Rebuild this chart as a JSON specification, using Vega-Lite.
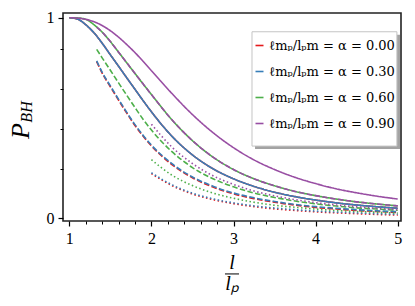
{
"$schema": "https://vega.github.io/schema/vega-lite/v6.json",
"width": 338, "height": 208,
"autosize": "none",
"padding": {"left": 63, "top": 13, "right": 14, "bottom": 85},
"background": "white",
"config": {"view": {"stroke": "#222222", "strokeWidth": 1.6}, "font": "Liberation Serif", "legend": {"labelFont": "DejaVu Serif"}},
"data": {"values": [
{"a":"0.00","s":"solid","l":1,"p":1.0},{"a":"0.00","s":"solid","l":1.1,"p":0.993},{"a":"0.00","s":"solid","l":1.2,"p":0.965},{"a":"0.00","s":"solid","l":1.3,"p":0.925},{"a":"0.00","s":"solid","l":1.4,"p":0.873},{"a":"0.00","s":"solid","l":1.5,"p":0.815},{"a":"0.00","s":"solid","l":1.6,"p":0.758},{"a":"0.00","s":"solid","l":1.7,"p":0.700},{"a":"0.00","s":"solid","l":1.8,"p":0.643},{"a":"0.00","s":"solid","l":1.9,"p":0.586},{"a":"0.00","s":"solid","l":2,"p":0.531},{"a":"0.00","s":"solid","l":2.25,"p":0.409},{"a":"0.00","s":"solid","l":2.5,"p":0.316},{"a":"0.00","s":"solid","l":2.75,"p":0.247},{"a":"0.00","s":"solid","l":3,"p":0.197},{"a":"0.00","s":"solid","l":3.25,"p":0.159},{"a":"0.00","s":"solid","l":3.5,"p":0.130},{"a":"0.00","s":"solid","l":3.75,"p":0.108},{"a":"0.00","s":"solid","l":4,"p":0.091},{"a":"0.00","s":"solid","l":4.25,"p":0.077},{"a":"0.00","s":"solid","l":4.5,"p":0.066},{"a":"0.00","s":"solid","l":4.75,"p":0.0575},{"a":"0.00","s":"solid","l":5,"p":0.050},
{"a":"0.00","s":"dashed","l":1.3333,"p":0.781},{"a":"0.00","s":"dashed","l":1.4,"p":0.724},{"a":"0.00","s":"dashed","l":1.5,"p":0.656},{"a":"0.00","s":"dashed","l":1.6,"p":0.589},{"a":"0.00","s":"dashed","l":1.7,"p":0.524},{"a":"0.00","s":"dashed","l":1.8,"p":0.463},{"a":"0.00","s":"dashed","l":1.9,"p":0.409},{"a":"0.00","s":"dashed","l":2,"p":0.361},{"a":"0.00","s":"dashed","l":2.25,"p":0.268},{"a":"0.00","s":"dashed","l":2.5,"p":0.202},{"a":"0.00","s":"dashed","l":2.75,"p":0.156},{"a":"0.00","s":"dashed","l":3,"p":0.122},{"a":"0.00","s":"dashed","l":3.25,"p":0.098},{"a":"0.00","s":"dashed","l":3.5,"p":0.080},{"a":"0.00","s":"dashed","l":3.75,"p":0.066},{"a":"0.00","s":"dashed","l":4,"p":0.054},{"a":"0.00","s":"dashed","l":4.25,"p":0.046},{"a":"0.00","s":"dashed","l":4.5,"p":0.039},{"a":"0.00","s":"dashed","l":4.75,"p":0.034},{"a":"0.00","s":"dashed","l":5,"p":0.029},
{"a":"0.00","s":"dotted","l":2,"p":0.223},{"a":"0.00","s":"dotted","l":2.25,"p":0.163},{"a":"0.00","s":"dotted","l":2.5,"p":0.121},{"a":"0.00","s":"dotted","l":2.75,"p":0.093},{"a":"0.00","s":"dotted","l":3,"p":0.073},{"a":"0.00","s":"dotted","l":3.25,"p":0.058},{"a":"0.00","s":"dotted","l":3.5,"p":0.047},{"a":"0.00","s":"dotted","l":3.75,"p":0.039},{"a":"0.00","s":"dotted","l":4,"p":0.032},{"a":"0.00","s":"dotted","l":4.25,"p":0.027},{"a":"0.00","s":"dotted","l":4.5,"p":0.023},{"a":"0.00","s":"dotted","l":4.75,"p":0.019},{"a":"0.00","s":"dotted","l":5,"p":0.016},
{"a":"0.30","s":"solid","l":1,"p":1.0},{"a":"0.30","s":"solid","l":1.1,"p":0.993},{"a":"0.30","s":"solid","l":1.2,"p":0.965},{"a":"0.30","s":"solid","l":1.3,"p":0.925},{"a":"0.30","s":"solid","l":1.4,"p":0.873},{"a":"0.30","s":"solid","l":1.5,"p":0.815},{"a":"0.30","s":"solid","l":1.6,"p":0.758},{"a":"0.30","s":"solid","l":1.7,"p":0.700},{"a":"0.30","s":"solid","l":1.8,"p":0.643},{"a":"0.30","s":"solid","l":1.9,"p":0.586},{"a":"0.30","s":"solid","l":2,"p":0.531},{"a":"0.30","s":"solid","l":2.25,"p":0.409},{"a":"0.30","s":"solid","l":2.5,"p":0.316},{"a":"0.30","s":"solid","l":2.75,"p":0.247},{"a":"0.30","s":"solid","l":3,"p":0.197},{"a":"0.30","s":"solid","l":3.25,"p":0.159},{"a":"0.30","s":"solid","l":3.5,"p":0.130},{"a":"0.30","s":"solid","l":3.75,"p":0.108},{"a":"0.30","s":"solid","l":4,"p":0.091},{"a":"0.30","s":"solid","l":4.25,"p":0.077},{"a":"0.30","s":"solid","l":4.5,"p":0.066},{"a":"0.30","s":"solid","l":4.75,"p":0.0575},{"a":"0.30","s":"solid","l":5,"p":0.050},
{"a":"0.30","s":"dashed","l":1.3333,"p":0.785},{"a":"0.30","s":"dashed","l":1.4,"p":0.728},{"a":"0.30","s":"dashed","l":1.5,"p":0.660},{"a":"0.30","s":"dashed","l":1.6,"p":0.593},{"a":"0.30","s":"dashed","l":1.7,"p":0.528},{"a":"0.30","s":"dashed","l":1.8,"p":0.467},{"a":"0.30","s":"dashed","l":1.9,"p":0.413},{"a":"0.30","s":"dashed","l":2,"p":0.365},{"a":"0.30","s":"dashed","l":2.25,"p":0.272},{"a":"0.30","s":"dashed","l":2.5,"p":0.206},{"a":"0.30","s":"dashed","l":2.75,"p":0.160},{"a":"0.30","s":"dashed","l":3,"p":0.126},{"a":"0.30","s":"dashed","l":3.25,"p":0.102},{"a":"0.30","s":"dashed","l":3.5,"p":0.084},{"a":"0.30","s":"dashed","l":3.75,"p":0.069},{"a":"0.30","s":"dashed","l":4,"p":0.058},{"a":"0.30","s":"dashed","l":4.25,"p":0.050},{"a":"0.30","s":"dashed","l":4.5,"p":0.043},{"a":"0.30","s":"dashed","l":4.75,"p":0.037},{"a":"0.30","s":"dashed","l":5,"p":0.033},
{"a":"0.30","s":"dotted","l":2,"p":0.227},{"a":"0.30","s":"dotted","l":2.25,"p":0.167},{"a":"0.30","s":"dotted","l":2.5,"p":0.125},{"a":"0.30","s":"dotted","l":2.75,"p":0.097},{"a":"0.30","s":"dotted","l":3,"p":0.077},{"a":"0.30","s":"dotted","l":3.25,"p":0.062},{"a":"0.30","s":"dotted","l":3.5,"p":0.051},{"a":"0.30","s":"dotted","l":3.75,"p":0.043},{"a":"0.30","s":"dotted","l":4,"p":0.036},{"a":"0.30","s":"dotted","l":4.25,"p":0.031},{"a":"0.30","s":"dotted","l":4.5,"p":0.027},{"a":"0.30","s":"dotted","l":4.75,"p":0.023},{"a":"0.30","s":"dotted","l":5,"p":0.020},
{"a":"0.60","s":"solid","l":1,"p":1.0},{"a":"0.60","s":"solid","l":1.1,"p":0.999},{"a":"0.60","s":"solid","l":1.2,"p":0.992},{"a":"0.60","s":"solid","l":1.3,"p":0.965},{"a":"0.60","s":"solid","l":1.4,"p":0.928},{"a":"0.60","s":"solid","l":1.5,"p":0.881},{"a":"0.60","s":"solid","l":1.6,"p":0.828},{"a":"0.60","s":"solid","l":1.7,"p":0.775},{"a":"0.60","s":"solid","l":1.8,"p":0.722},{"a":"0.60","s":"solid","l":1.9,"p":0.669},{"a":"0.60","s":"solid","l":2,"p":0.617},{"a":"0.60","s":"solid","l":2.25,"p":0.491},{"a":"0.60","s":"solid","l":2.5,"p":0.387},{"a":"0.60","s":"solid","l":2.75,"p":0.305},{"a":"0.60","s":"solid","l":3,"p":0.243},{"a":"0.60","s":"solid","l":3.25,"p":0.197},{"a":"0.60","s":"solid","l":3.5,"p":0.162},{"a":"0.60","s":"solid","l":3.75,"p":0.134},{"a":"0.60","s":"solid","l":4,"p":0.113},{"a":"0.60","s":"solid","l":4.25,"p":0.096},{"a":"0.60","s":"solid","l":4.5,"p":0.082},{"a":"0.60","s":"solid","l":4.75,"p":0.071},{"a":"0.60","s":"solid","l":5,"p":0.062},
{"a":"0.60","s":"dashed","l":1.3333,"p":0.842},{"a":"0.60","s":"dashed","l":1.4,"p":0.800},{"a":"0.60","s":"dashed","l":1.5,"p":0.738},{"a":"0.60","s":"dashed","l":1.6,"p":0.675},{"a":"0.60","s":"dashed","l":1.7,"p":0.613},{"a":"0.60","s":"dashed","l":1.8,"p":0.552},{"a":"0.60","s":"dashed","l":1.9,"p":0.493},{"a":"0.60","s":"dashed","l":2,"p":0.440},{"a":"0.60","s":"dashed","l":2.25,"p":0.332},{"a":"0.60","s":"dashed","l":2.5,"p":0.253},{"a":"0.60","s":"dashed","l":2.75,"p":0.197},{"a":"0.60","s":"dashed","l":3,"p":0.157},{"a":"0.60","s":"dashed","l":3.25,"p":0.126},{"a":"0.60","s":"dashed","l":3.5,"p":0.104},{"a":"0.60","s":"dashed","l":3.75,"p":0.086},{"a":"0.60","s":"dashed","l":4,"p":0.072},{"a":"0.60","s":"dashed","l":4.25,"p":0.061},{"a":"0.60","s":"dashed","l":4.5,"p":0.052},{"a":"0.60","s":"dashed","l":4.75,"p":0.046},{"a":"0.60","s":"dashed","l":5,"p":0.040},
{"a":"0.60","s":"dotted","l":2,"p":0.292},{"a":"0.60","s":"dotted","l":2.25,"p":0.215},{"a":"0.60","s":"dotted","l":2.5,"p":0.163},{"a":"0.60","s":"dotted","l":2.75,"p":0.126},{"a":"0.60","s":"dotted","l":3,"p":0.100},{"a":"0.60","s":"dotted","l":3.25,"p":0.080},{"a":"0.60","s":"dotted","l":3.5,"p":0.065},{"a":"0.60","s":"dotted","l":3.75,"p":0.055},{"a":"0.60","s":"dotted","l":4,"p":0.046},{"a":"0.60","s":"dotted","l":4.25,"p":0.039},{"a":"0.60","s":"dotted","l":4.5,"p":0.034},{"a":"0.60","s":"dotted","l":4.75,"p":0.030},{"a":"0.60","s":"dotted","l":5,"p":0.026},
{"a":"0.90","s":"solid","l":1,"p":1.0},{"a":"0.90","s":"solid","l":1.1,"p":0.998},{"a":"0.90","s":"solid","l":1.2,"p":0.992},{"a":"0.90","s":"solid","l":1.3,"p":0.980},{"a":"0.90","s":"solid","l":1.4,"p":0.961},{"a":"0.90","s":"solid","l":1.5,"p":0.935},{"a":"0.90","s":"solid","l":1.6,"p":0.903},{"a":"0.90","s":"solid","l":1.7,"p":0.866},{"a":"0.90","s":"solid","l":1.8,"p":0.826},{"a":"0.90","s":"solid","l":1.9,"p":0.782},{"a":"0.90","s":"solid","l":2,"p":0.736},{"a":"0.90","s":"solid","l":2.25,"p":0.622},{"a":"0.90","s":"solid","l":2.5,"p":0.517},{"a":"0.90","s":"solid","l":2.75,"p":0.427},{"a":"0.90","s":"solid","l":3,"p":0.352},{"a":"0.90","s":"solid","l":3.25,"p":0.291},{"a":"0.90","s":"solid","l":3.5,"p":0.243},{"a":"0.90","s":"solid","l":3.75,"p":0.204},{"a":"0.90","s":"solid","l":4,"p":0.173},{"a":"0.90","s":"solid","l":4.25,"p":0.147},{"a":"0.90","s":"solid","l":4.5,"p":0.127},{"a":"0.90","s":"solid","l":4.75,"p":0.110},{"a":"0.90","s":"solid","l":5,"p":0.096},
{"a":"0.90","s":"dashed","l":1.3333,"p":0.953},{"a":"0.90","s":"dashed","l":1.4,"p":0.928},{"a":"0.90","s":"dashed","l":1.5,"p":0.881},{"a":"0.90","s":"dashed","l":1.6,"p":0.828},{"a":"0.90","s":"dashed","l":1.7,"p":0.775},{"a":"0.90","s":"dashed","l":1.8,"p":0.722},{"a":"0.90","s":"dashed","l":1.9,"p":0.669},{"a":"0.90","s":"dashed","l":2,"p":0.617},{"a":"0.90","s":"dashed","l":2.25,"p":0.491},{"a":"0.90","s":"dashed","l":2.5,"p":0.387},{"a":"0.90","s":"dashed","l":2.75,"p":0.305},{"a":"0.90","s":"dashed","l":3,"p":0.243},{"a":"0.90","s":"dashed","l":3.25,"p":0.197},{"a":"0.90","s":"dashed","l":3.5,"p":0.162},{"a":"0.90","s":"dashed","l":3.75,"p":0.134},{"a":"0.90","s":"dashed","l":4,"p":0.113},{"a":"0.90","s":"dashed","l":4.25,"p":0.096},{"a":"0.90","s":"dashed","l":4.5,"p":0.082},{"a":"0.90","s":"dashed","l":4.75,"p":0.071},{"a":"0.90","s":"dashed","l":5,"p":0.062},
{"a":"0.90","s":"dotted","l":2,"p":0.469},{"a":"0.90","s":"dotted","l":2.25,"p":0.355},{"a":"0.90","s":"dotted","l":2.5,"p":0.273},{"a":"0.90","s":"dotted","l":2.75,"p":0.212},{"a":"0.90","s":"dotted","l":3,"p":0.169},{"a":"0.90","s":"dotted","l":3.25,"p":0.136},{"a":"0.90","s":"dotted","l":3.5,"p":0.112},{"a":"0.90","s":"dotted","l":3.75,"p":0.093},{"a":"0.90","s":"dotted","l":4,"p":0.078},{"a":"0.90","s":"dotted","l":4.25,"p":0.066},{"a":"0.90","s":"dotted","l":4.5,"p":0.057},{"a":"0.90","s":"dotted","l":4.75,"p":0.049},{"a":"0.90","s":"dotted","l":5,"p":0.043}
]},
"layer": [
{"data": {"values": [{}]},
 "mark": {"type": "rect", "color": "#a3a3a3"},
 "encoding": {
  "x": {"datum": 3.262, "type": "quantitative", "scale": {"domain": [0.923, 5.04], "nice": false, "zero": false},
        "axis": {"orient": "bottom", "values": [1.2,1.4,1.6,1.8,2.2,2.4,2.6,2.8,3.2,3.4,3.6,3.8,4.2,4.4,4.6,4.8], "labels": false, "domain": false, "grid": false, "title": null, "tickSize": 3, "tickColor": "black", "tickWidth": 1}},
  "x2": {"datum": 5.028},
  "y": {"datum": 0.915, "type": "quantitative", "scale": {"domain": [-0.0135, 1.0235], "nice": false, "zero": false},
        "axis": {"orient": "left", "values": [0.245, 0.445, 0.645, 0.845], "labels": false, "domain": false, "grid": false, "title": null, "tickSize": 3, "tickColor": "black", "tickWidth": 1}},
  "y2": {"datum": 0.3455}
 }},
{"data": {"values": [{}]},
 "mark": {"type": "rect", "fill": "white", "stroke": "#c4c4c4", "strokeWidth": 1},
 "encoding": {
  "x": {"datum": 3.225, "type": "quantitative", "scale": {"domain": [0.923, 5.04], "nice": false, "zero": false}, "axis": null},
  "x2": {"datum": 4.99},
  "y": {"datum": 0.93, "type": "quantitative", "scale": {"domain": [-0.0135, 1.0235], "nice": false, "zero": false}, "axis": null},
  "y2": {"datum": 0.36}
 }},
{"mark": {"type": "line", "strokeWidth": 1.6, "interpolate": "monotone"},
 "encoding": {
  "x": {"field": "l", "type": "quantitative", "scale": {"domain": [0.923, 5.04], "nice": false, "zero": false},
        "axis": {"orient": "bottom", "values": [1,2,3,4,5], "format": "d", "title": null, "grid": false, "domain": false, "tickSize": 5, "tickColor": "black", "tickWidth": 1.2, "labelFont": "Liberation Serif", "labelFontSize": 16, "labelColor": "black", "labelPadding": 4}},
  "y": {"field": "p", "type": "quantitative", "scale": {"domain": [-0.0135, 1.0235], "nice": false, "zero": false},
        "axis": {"orient": "left", "values": [0, 1], "format": "d", "title": null, "grid": false, "domain": false, "tickSize": 5, "tickColor": "black", "tickWidth": 1.2, "labelFont": "Liberation Serif", "labelFontSize": 16, "labelColor": "black", "labelPadding": 4}},
  "color": {"field": "a", "type": "nominal",
            "scale": {"domain": ["0.00","0.30","0.60","0.90"], "range": ["#e41a1c","#377eb8","#4daf4a","#984ea3"]},
            "legend": {"orient": "none", "legendX": 188, "legendY": 24, "title": null, "padding": 2, "rowPadding": 12, "symbolType": "stroke", "symbolSize": 64, "symbolStrokeWidth": 1.6, "labelFont": "DejaVu Serif", "labelFontSize": 13, "labelColor": "black", "labelOffset": 3, "labelLimit": 300,
                       "labelExpr": "'ℓmₚ/lₚm = α = ' + datum.label"}},
  "strokeDash": {"field": "s", "type": "nominal",
                 "scale": {"domain": ["solid","dashed","dotted"], "range": [[1,0],[5.5,2.4],[1.5,2.5]]}, "legend": null}
 }},
{"data": {"values": [{}]},
 "mark": {"type": "text", "fontSize": 26, "fontStyle": "italic", "font": "Liberation Serif", "angle": 270, "color": "black"},
 "encoding": {
  "x": {"datum": 0.412, "type": "quantitative", "scale": {"domain": [0.923, 5.04], "nice": false, "zero": false}, "axis": null},
  "y": {"datum": 0.435, "type": "quantitative", "scale": {"domain": [-0.0135, 1.0235], "nice": false, "zero": false}, "axis": null},
  "text": {"value": "P"}
 }},
{"data": {"values": [{}]},
 "mark": {"type": "text", "fontSize": 16, "fontStyle": "italic", "font": "Liberation Serif", "angle": 270, "color": "black"},
 "encoding": {
  "x": {"datum": 0.485, "type": "quantitative", "scale": {"domain": [0.923, 5.04], "nice": false, "zero": false}, "axis": null},
  "y": {"datum": 0.53, "type": "quantitative", "scale": {"domain": [-0.0135, 1.0235], "nice": false, "zero": false}, "axis": null},
  "text": {"value": "BH"}
 }},
{"data": {"values": [{}]},
 "mark": {"type": "text", "fontSize": 20, "fontStyle": "italic", "font": "Liberation Serif", "color": "black"},
 "encoding": {
  "x": {"datum": 2.981, "type": "quantitative", "scale": {"domain": [0.923, 5.04], "nice": false, "zero": false}, "axis": null},
  "y": {"datum": -0.223, "type": "quantitative", "scale": {"domain": [-0.0135, 1.0235], "nice": false, "zero": false}, "axis": null},
  "text": {"value": "l"}
 }},
{"data": {"values": [{}]},
 "mark": {"type": "rule", "color": "black", "strokeWidth": 1},
 "encoding": {
  "x": {"datum": 2.896, "type": "quantitative", "scale": {"domain": [0.923, 5.04], "nice": false, "zero": false}, "axis": null},
  "x2": {"datum": 3.067},
  "y": {"datum": -0.2775, "type": "quantitative", "scale": {"domain": [-0.0135, 1.0235], "nice": false, "zero": false}, "axis": null}
 }},
{"data": {"values": [{}]},
 "mark": {"type": "text", "fontSize": 20, "fontStyle": "italic", "font": "Liberation Serif", "color": "black"},
 "encoding": {
  "x": {"datum": 2.981, "type": "quantitative", "scale": {"domain": [0.923, 5.04], "nice": false, "zero": false}, "axis": null},
  "y": {"datum": -0.3275, "type": "quantitative", "scale": {"domain": [-0.0135, 1.0235], "nice": false, "zero": false}, "axis": null},
  "text": {"value": "lₚ"}
 }}
],
"resolve": {"axis": {"x": "independent", "y": "independent"}}
}
